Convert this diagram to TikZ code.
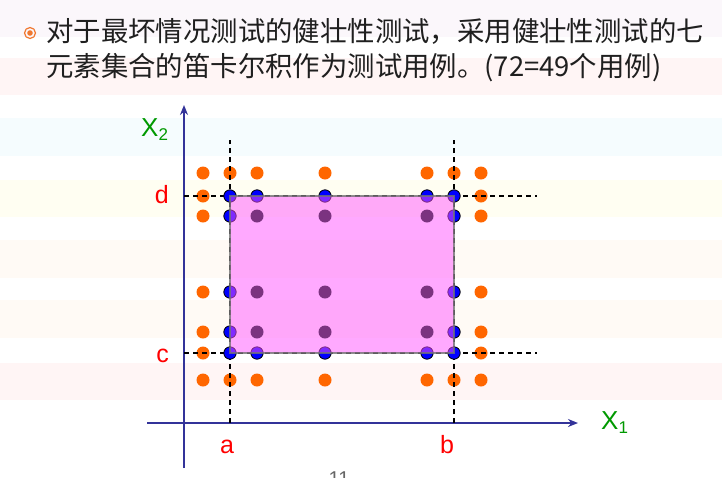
\documentclass[tikz,border=0pt]{standalone}
\usepackage{fontspec}
\setmainfont{Liberation Sans}
\newfontfamily\cjk{Noto Sans CJK SC}
\usepackage{xcolor}
\usetikzlibrary{arrows.meta}

\definecolor{axisblue}{HTML}{333399}
\definecolor{ptorange}{HTML}{FF6600}
\definecolor{ptblue}{HTML}{0000FF}
\definecolor{ptpurple}{HTML}{7B3380}
\definecolor{lblgreen}{HTML}{009900}
\definecolor{boxpink}{HTML}{FF55FF}
\definecolor{bulletorange}{HTML}{F07830}

\tikzset{
  outpt/.style={fill=ptorange},
  edgept/.style={fill=ptblue,draw=black,line width=0.8},
  inpt/.style={fill=ptpurple},
  guide/.style={black,line width=1.1,dash pattern=on 5 off 4},
  axis/.style={axisblue,line width=2.5,-{Stealth[length=10,width=8]}},
  varlbl/.style={lblgreen,inner sep=0,font=\fontsize{26}{26}\selectfont},
  bndlbl/.style={red,inner sep=0,font=\fontsize{25}{25}\selectfont},
}

\begin{document}
\begin{tikzpicture}[x=1pt,y=-1pt]
\useasboundingbox (0,0) rectangle (722,477);
% slide background bands
\fill[white] (0,0) rectangle (722,477);
\fill[violet!3!white] (0,0) rectangle (722,37);
\fill[red!4!white] (0,58) rectangle (722,95);
\fill[cyan!4!white] (0,118) rectangle (722,156);
\fill[yellow!5!white] (0,180) rectangle (722,217);
\fill[orange!4!white] (0,240) rectangle (722,278);
\fill[orange!4!white] (0,300) rectangle (722,338);
\fill[red!4!white] (0,363) rectangle (722,400);

% title
\draw[bulletorange,line width=1.2] (30,33) circle (5.5);
\fill[bulletorange] (30,33) circle (2.8);
\node[anchor=west,align=left,inner sep=0,text=black!88,
      font=\cjk\fontsize{27.4}{35}\selectfont] (title) at (46,50)
  {对于最坏情况测试的健壮性测试，采用健壮性测试的七\\元素集合的笛卡尔积作为测试用例。(72=49个用例)};

\coordinate (o) at (184,423);
\coordinate (a) at (230,423);
\coordinate (b) at (454,423);
\coordinate (c) at (184,353);
\coordinate (d) at (184,196);

% axes
\draw[axis] (o)++(-37,0) -- (578,423);
\draw[axis] (o)++(0,45) -- (184,105);

% test points outside the domain
\foreach \x in {203,230,257,325,427,454,481}
  \foreach \y in {173,380}
    \fill[outpt] (\x,\y) circle (6.5);
\foreach \x in {203,481}
  \foreach \y in {196,216,292,332,353}
    \fill[outpt] (\x,\y) circle (6.5);

% boundaries
\draw[guide] (a) -- ++(0,-283);
\draw[guide] (b) -- ++(0,-283);
\draw[guide] (d) -- ++(353,0);
\draw[guide] (c) -- ++(353,0);

% test points on the edges
\foreach \x in {230,257,325,427,454}
  \foreach \y in {196,353}
    \filldraw[edgept] (\x,\y) circle (6.2);
\foreach \x in {230,454}
  \foreach \y in {216,292,332}
    \filldraw[edgept] (\x,\y) circle (6.2);

% domain box
\draw[fill=boxpink,fill opacity=0.5,draw=black!55,draw opacity=0.8,line width=1.2]
  (a|-d) rectangle (b|-c);
\foreach \x in {257,325,427}
  \foreach \y in {216,292,332}
    \fill[inpt] (\x,\y) circle (6.5);

% labels
\node[bndlbl,anchor=base] (la) at ([xshift=-3,yshift=-30]a) {a};
\node[bndlbl,anchor=base] (lb) at ([xshift=-7,yshift=-30]b) {b};
\node[bndlbl,anchor=base east] (lc) at ([xshift=-15,yshift=-9]c) {c};
\node[bndlbl,anchor=base east] (ld) at ([xshift=-15,yshift=-7]d) {d};
\node[varlbl,anchor=base west] (x1) at (601,429)
  {X\raisebox{-0.3ex}{\fontsize{17}{17}\selectfont 1}};
\node[varlbl,anchor=base west] (x2) at (141,136)
  {X\raisebox{-0.3ex}{\fontsize{17}{17}\selectfont 2}};

% page number, cut by the page edge
\node[text=black!60,anchor=base,font=\fontsize{20}{20}\selectfont] (pg) at (339,485) {11};
\end{tikzpicture}
\end{document}
